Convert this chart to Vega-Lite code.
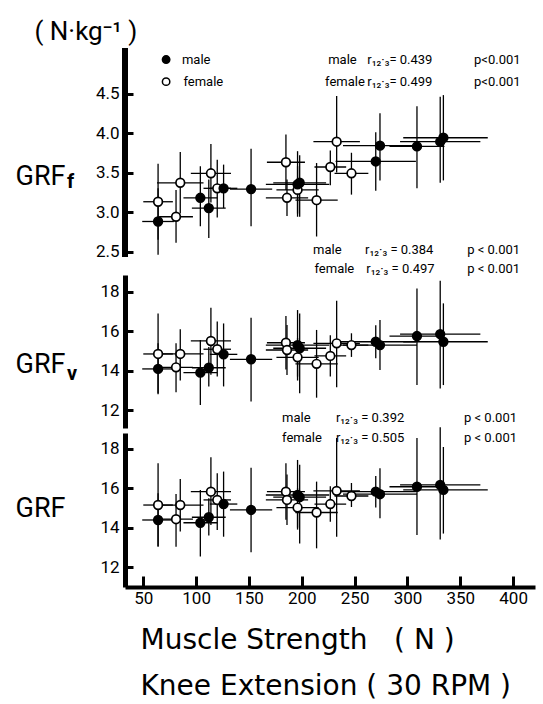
{
"$schema": "https://vega.github.io/schema/vega-lite/v6.json",
"background": "white",
"padding": {"left": 15, "top": 18, "right": 5, "bottom": 2},
"bounds": "flush",
"spacing": 5,
"config": {
  "view": {"stroke": null},
  "font": "Roboto",
  "axis": {"domainColor": "black", "domainWidth": 5, "tickColor": "black", "tickWidth": 3, "labelColor": "black", "labelFontSize": 17, "labelFont": "Roboto", "grid": false, "titleColor": "black"},
  "text": {"font": "Roboto", "color": "black"}
},
"datasets": {
  "pts": [
    {"panel":"f","sex":"female","x":64,"xlo":50,"xhi":78,"y":3.13,"ylo":2.65,"yhi":3.61},
    {"panel":"f","sex":"female","x":81,"xlo":65,"xhi":97,"y":2.94,"ylo":2.61,"yhi":3.28},
    {"panel":"f","sex":"female","x":85,"xlo":63,"xhi":107,"y":3.37,"ylo":2.98,"yhi":3.76},
    {"panel":"f","sex":"female","x":114,"xlo":95,"xhi":133,"y":3.49,"ylo":3.12,"yhi":3.86},
    {"panel":"f","sex":"female","x":120,"xlo":107,"xhi":133,"y":3.30,"ylo":2.93,"yhi":3.66},
    {"panel":"f","sex":"female","x":185,"xlo":167,"xhi":203,"y":3.63,"ylo":3.28,"yhi":3.98},
    {"panel":"f","sex":"female","x":186,"xlo":166,"xhi":206,"y":3.18,"ylo":2.95,"yhi":3.41},
    {"panel":"f","sex":"female","x":196,"xlo":176,"xhi":216,"y":3.28,"ylo":2.98,"yhi":3.58},
    {"panel":"f","sex":"female","x":214,"xlo":194,"xhi":234,"y":3.15,"ylo":2.69,"yhi":3.62},
    {"panel":"f","sex":"female","x":227,"xlo":212,"xhi":242,"y":3.57,"ylo":3.34,"yhi":3.78},
    {"panel":"f","sex":"female","x":233,"xlo":211,"xhi":255,"y":3.89,"ylo":3.50,"yhi":4.47},
    {"panel":"f","sex":"female","x":247,"xlo":231,"xhi":263,"y":3.49,"ylo":3.22,"yhi":3.75},
    {"panel":"f","sex":"male","x":64,"xlo":49,"xhi":79,"y":2.88,"ylo":2.46,"yhi":3.30},
    {"panel":"f","sex":"male","x":104,"xlo":88,"xhi":120,"y":3.18,"ylo":2.82,"yhi":3.58},
    {"panel":"f","sex":"male","x":112,"xlo":96,"xhi":128,"y":3.05,"ylo":2.67,"yhi":3.41},
    {"panel":"f","sex":"male","x":126,"xlo":113,"xhi":139,"y":3.30,"ylo":3.05,"yhi":3.60},
    {"panel":"f","sex":"male","x":152,"xlo":132,"xhi":172,"y":3.29,"ylo":2.82,"yhi":3.80},
    {"panel":"f","sex":"male","x":196,"xlo":166,"xhi":226,"y":3.35,"ylo":2.94,"yhi":3.77},
    {"panel":"f","sex":"male","x":198,"xlo":173,"xhi":223,"y":3.37,"ylo":2.94,"yhi":3.72},
    {"panel":"f","sex":"male","x":270,"xlo":232,"xhi":308,"y":3.64,"ylo":3.27,"yhi":4.01},
    {"panel":"f","sex":"male","x":274,"xlo":239,"xhi":309,"y":3.84,"ylo":3.40,"yhi":4.25},
    {"panel":"f","sex":"male","x":309,"xlo":283,"xhi":335,"y":3.83,"ylo":3.30,"yhi":4.34},
    {"panel":"f","sex":"male","x":331,"xlo":293,"xhi":369,"y":3.89,"ylo":3.37,"yhi":4.46},
    {"panel":"f","sex":"male","x":334,"xlo":296,"xhi":376,"y":3.94,"ylo":3.40,"yhi":4.48},

    {"panel":"v","sex":"female","x":64,"xlo":50,"xhi":78,"y":14.85,"ylo":12.85,"yhi":16.90},
    {"panel":"v","sex":"female","x":81,"xlo":65,"xhi":97,"y":14.17,"ylo":12.90,"yhi":15.40},
    {"panel":"v","sex":"female","x":85,"xlo":63,"xhi":107,"y":14.85,"ylo":13.50,"yhi":16.10},
    {"panel":"v","sex":"female","x":114,"xlo":95,"xhi":133,"y":15.51,"ylo":13.80,"yhi":17.20},
    {"panel":"v","sex":"female","x":120,"xlo":107,"xhi":133,"y":15.09,"ylo":13.70,"yhi":16.50},
    {"panel":"v","sex":"female","x":185,"xlo":167,"xhi":203,"y":15.42,"ylo":14.06,"yhi":16.78},
    {"panel":"v","sex":"female","x":186,"xlo":166,"xhi":206,"y":15.05,"ylo":13.78,"yhi":16.32},
    {"panel":"v","sex":"female","x":196,"xlo":176,"xhi":216,"y":14.68,"ylo":13.70,"yhi":15.66},
    {"panel":"v","sex":"female","x":214,"xlo":194,"xhi":234,"y":14.35,"ylo":12.63,"yhi":16.07},
    {"panel":"v","sex":"female","x":227,"xlo":212,"xhi":242,"y":14.75,"ylo":13.70,"yhi":15.80},
    {"panel":"v","sex":"female","x":233,"xlo":211,"xhi":255,"y":15.39,"ylo":13.16,"yhi":17.55},
    {"panel":"v","sex":"female","x":247,"xlo":231,"xhi":263,"y":15.30,"ylo":14.70,"yhi":15.90},
    {"panel":"v","sex":"male","x":64,"xlo":49,"xhi":79,"y":14.09,"ylo":12.80,"yhi":15.40},
    {"panel":"v","sex":"male","x":104,"xlo":88,"xhi":120,"y":13.90,"ylo":12.26,"yhi":15.56},
    {"panel":"v","sex":"male","x":112,"xlo":96,"xhi":128,"y":14.15,"ylo":13.20,"yhi":15.20},
    {"panel":"v","sex":"male","x":126,"xlo":113,"xhi":139,"y":14.83,"ylo":13.20,"yhi":16.40},
    {"panel":"v","sex":"male","x":152,"xlo":132,"xhi":172,"y":14.58,"ylo":12.43,"yhi":16.69},
    {"panel":"v","sex":"male","x":196,"xlo":166,"xhi":226,"y":15.30,"ylo":13.50,"yhi":17.08},
    {"panel":"v","sex":"male","x":198,"xlo":173,"xhi":223,"y":15.14,"ylo":12.85,"yhi":16.90},
    {"panel":"v","sex":"male","x":270,"xlo":232,"xhi":308,"y":15.47,"ylo":14.63,"yhi":16.31},
    {"panel":"v","sex":"male","x":274,"xlo":239,"xhi":309,"y":15.30,"ylo":14.04,"yhi":16.57},
    {"panel":"v","sex":"male","x":309,"xlo":283,"xhi":335,"y":15.76,"ylo":13.27,"yhi":18.18},
    {"panel":"v","sex":"male","x":331,"xlo":293,"xhi":369,"y":15.86,"ylo":13.10,"yhi":18.57},
    {"panel":"v","sex":"male","x":334,"xlo":296,"xhi":376,"y":15.47,"ylo":13.27,"yhi":17.42},

    {"panel":"t","sex":"female","x":64,"xlo":50,"xhi":78,"y":15.15,"ylo":13.05,"yhi":17.27},
    {"panel":"t","sex":"female","x":81,"xlo":65,"xhi":97,"y":14.43,"ylo":13.03,"yhi":15.71},
    {"panel":"t","sex":"female","x":85,"xlo":63,"xhi":107,"y":15.15,"ylo":13.80,"yhi":16.47},
    {"panel":"t","sex":"female","x":114,"xlo":95,"xhi":133,"y":15.83,"ylo":14.14,"yhi":17.58},
    {"panel":"t","sex":"female","x":120,"xlo":107,"xhi":133,"y":15.41,"ylo":13.88,"yhi":16.77},
    {"panel":"t","sex":"female","x":185,"xlo":167,"xhi":203,"y":15.83,"ylo":14.40,"yhi":17.27},
    {"panel":"t","sex":"female","x":186,"xlo":166,"xhi":206,"y":15.41,"ylo":14.14,"yhi":16.70},
    {"panel":"t","sex":"female","x":196,"xlo":176,"xhi":216,"y":15.02,"ylo":14.00,"yhi":16.00},
    {"panel":"t","sex":"female","x":214,"xlo":194,"xhi":234,"y":14.77,"ylo":12.95,"yhi":16.34},
    {"panel":"t","sex":"female","x":227,"xlo":212,"xhi":242,"y":15.20,"ylo":14.30,"yhi":16.10},
    {"panel":"t","sex":"female","x":233,"xlo":211,"xhi":255,"y":15.87,"ylo":13.54,"yhi":18.55},
    {"panel":"t","sex":"female","x":247,"xlo":231,"xhi":263,"y":15.61,"ylo":15.05,"yhi":16.27},
    {"panel":"t","sex":"male","x":64,"xlo":49,"xhi":79,"y":14.39,"ylo":13.03,"yhi":15.75},
    {"panel":"t","sex":"male","x":104,"xlo":88,"xhi":120,"y":14.25,"ylo":12.53,"yhi":15.92},
    {"panel":"t","sex":"male","x":112,"xlo":96,"xhi":128,"y":14.53,"ylo":13.60,"yhi":15.50},
    {"panel":"t","sex":"male","x":126,"xlo":113,"xhi":139,"y":15.20,"ylo":13.54,"yhi":16.85},
    {"panel":"t","sex":"male","x":152,"xlo":132,"xhi":172,"y":14.90,"ylo":12.75,"yhi":17.05},
    {"panel":"t","sex":"male","x":196,"xlo":166,"xhi":226,"y":15.66,"ylo":13.90,"yhi":17.44},
    {"panel":"t","sex":"male","x":198,"xlo":173,"xhi":223,"y":15.55,"ylo":13.20,"yhi":17.20},
    {"panel":"t","sex":"male","x":270,"xlo":232,"xhi":308,"y":15.83,"ylo":15.03,"yhi":16.63},
    {"panel":"t","sex":"male","x":274,"xlo":239,"xhi":309,"y":15.70,"ylo":14.48,"yhi":17.02},
    {"panel":"t","sex":"male","x":309,"xlo":283,"xhi":335,"y":16.08,"ylo":13.63,"yhi":18.55},
    {"panel":"t","sex":"male","x":331,"xlo":293,"xhi":369,"y":16.17,"ylo":13.40,"yhi":19.10},
    {"panel":"t","sex":"male","x":334,"xlo":296,"xhi":376,"y":15.92,"ylo":13.70,"yhi":18.10}
  ],
  "legend": [
    {"sex":"male","x":71.6,"y":4.93},
    {"sex":"female","x":71.6,"y":4.65}
  ],
  "notes": [
    {"panel":"f","kind":"ann","x":86.6,"y":4.93,"text":"male"},
    {"panel":"f","kind":"ann","x":88,"y":4.65,"text":"female"},
    {"panel":"f","kind":"ann","x":225,"y":4.93,"text":"male"},
    {"panel":"f","kind":"ann","x":262,"y":4.93,"text":"r₁₂·₃= 0.439"},
    {"panel":"f","kind":"ann","x":363,"y":4.93,"text":"p<0.001"},
    {"panel":"f","kind":"ann","x":222,"y":4.65,"text":"female"},
    {"panel":"f","kind":"ann","x":262,"y":4.65,"text":"r₁₂·₃= 0.499"},
    {"panel":"f","kind":"ann","x":363,"y":4.65,"text":"p<0.001"},
    {"panel":"f","kind":"big","x":-70.9,"y":3.346,"text":"GRF"},
    {"panel":"f","kind":"sub","x":-22.3,"y":3.31,"text":"f"},
    {"panel":"f","kind":"unit","x":-53,"y":5.18,"text":"( N·kg⁻¹ )"},
    {"panel":"v","kind":"ann","x":210.7,"y":20.13,"text":"male"},
    {"panel":"v","kind":"ann","x":259.9,"y":20.13,"text":"r₁₂·₃ = 0.384"},
    {"panel":"v","kind":"ann","x":356.5,"y":20.13,"text":"p < 0.001"},
    {"panel":"v","kind":"ann","x":212,"y":19.15,"text":"female"},
    {"panel":"v","kind":"ann","x":261,"y":19.15,"text":"r₁₂·₃ = 0.497"},
    {"panel":"v","kind":"ann","x":356.5,"y":19.15,"text":"p < 0.001"},
    {"panel":"v","kind":"big","x":-70.9,"y":13.88,"text":"GRF"},
    {"panel":"v","kind":"sub","x":-22.3,"y":13.53,"text":"v"},
    {"panel":"t","kind":"ann","x":181.3,"y":19.56,"text":"male"},
    {"panel":"t","kind":"ann","x":232.3,"y":19.56,"text":"r₁₂·₃ = 0.392"},
    {"panel":"t","kind":"ann","x":353.5,"y":19.56,"text":"p < 0.001"},
    {"panel":"t","kind":"ann","x":181.3,"y":18.55,"text":"female"},
    {"panel":"t","kind":"ann","x":232.3,"y":18.55,"text":"r₁₂·₃ = 0.505"},
    {"panel":"t","kind":"ann","x":353.5,"y":18.55,"text":"p < 0.001"},
    {"panel":"t","kind":"big","x":-70.9,"y":14.54,"text":"GRF"}
  ]
},
"vconcat": [
  {
    "width": 410, "height": 222,
    "layer": [
      {"data": {"name": "pts"}, "transform": [{"filter": "datum.panel == 'f'"}],
       "mark": {"type": "rule", "color": "black", "strokeWidth": 1.3},
       "encoding": {
         "x": {"field": "xlo", "type": "quantitative", "scale": {"domain": [32.7, 420.7], "nice": false, "zero": false}, "axis": null},
         "x2": {"field": "xhi"},
         "y": {"field": "y", "type": "quantitative", "scale": {"domain": [2.266, 5.076], "nice": false, "zero": false},
               "axis": {"title": null, "domain": false, "values": [2.5, 3.0, 3.5, 4.0, 4.5], "format": ".1f", "tickSize": -8, "labelPadding": 14}}
       }},
      {"data": {"name": "pts"}, "mark": {"type": "rule", "color": "black", "strokeWidth": 5},
       "encoding": {"x": {"datum": 32.7, "type": "quantitative"}, "y": {"datum": 2.44, "type": "quantitative"}, "y2": {"datum": 5.076}}},
      {"data": {"name": "pts"}, "transform": [{"filter": "datum.panel == 'f'"}],
       "mark": {"type": "rule", "color": "black", "strokeWidth": 1.3},
       "encoding": {"x": {"field": "x", "type": "quantitative"}, "y": {"field": "ylo", "type": "quantitative"}, "y2": {"field": "yhi"}}},
      {"data": {"name": "pts"}, "transform": [{"filter": "datum.panel == 'f'"}],
       "mark": {"type": "point", "shape": "circle", "filled": true, "size": 75, "stroke": "black", "strokeWidth": 1.7, "opacity": 1},
       "encoding": {"x": {"field": "x", "type": "quantitative"}, "y": {"field": "y", "type": "quantitative"},
                    "fill": {"field": "sex", "type": "nominal", "scale": {"domain": ["male", "female"], "range": ["black", "white"]}, "legend": null}}},
      {"data": {"name": "legend"},
       "mark": {"type": "point", "shape": "circle", "filled": true, "size": 55, "stroke": "black", "strokeWidth": 1.5, "opacity": 1},
       "encoding": {"x": {"field": "x", "type": "quantitative"}, "y": {"field": "y", "type": "quantitative"},
                    "fill": {"field": "sex", "type": "nominal", "scale": {"domain": ["male", "female"], "range": ["black", "white"]}, "legend": null}}},
      {"data": {"name": "notes"}, "transform": [{"filter": "datum.panel == 'f' && datum.kind == 'ann'"}],
       "mark": {"type": "text", "fontSize": 13, "align": "left", "baseline": "middle"},
       "encoding": {"x": {"field": "x", "type": "quantitative"}, "y": {"field": "y", "type": "quantitative"}, "text": {"field": "text"}}},
      {"data": {"name": "notes"}, "transform": [{"filter": "datum.panel == 'f' && datum.kind == 'big'"}],
       "mark": {"type": "text", "fontSize": 27, "align": "left", "baseline": "alphabetic"},
       "encoding": {"x": {"field": "x", "type": "quantitative"}, "y": {"field": "y", "type": "quantitative"}, "text": {"field": "text"}}},
      {"data": {"name": "notes"}, "transform": [{"filter": "datum.panel == 'f' && datum.kind == 'sub'"}],
       "mark": {"type": "text", "fontSize": 20, "fontWeight": "bold", "align": "left", "baseline": "alphabetic"},
       "encoding": {"x": {"field": "x", "type": "quantitative"}, "y": {"field": "y", "type": "quantitative"}, "text": {"field": "text"}}},
      {"data": {"name": "notes"}, "transform": [{"filter": "datum.panel == 'f' && datum.kind == 'unit'"}],
       "mark": {"type": "text", "fontSize": 26, "align": "left", "baseline": "alphabetic"},
       "encoding": {"x": {"field": "x", "type": "quantitative"}, "y": {"field": "y", "type": "quantitative"}, "text": {"field": "text"}}}
    ]
  },
  {
    "width": 410, "height": 153,
    "layer": [
      {"data": {"name": "pts"}, "transform": [{"filter": "datum.panel == 'v'"}],
       "mark": {"type": "rule", "color": "black", "strokeWidth": 1.3},
       "encoding": {
         "x": {"field": "xlo", "type": "quantitative", "scale": {"domain": [32.7, 420.7], "nice": false, "zero": false}, "axis": null},
         "x2": {"field": "xhi"},
         "y": {"field": "y", "type": "quantitative", "scale": {"domain": [11.09, 18.86], "nice": false, "zero": false},
               "axis": {"title": null, "values": [12, 14, 16, 18], "format": "d", "tickSize": -8, "labelPadding": 14}}
       }},
      {"data": {"name": "pts"}, "transform": [{"filter": "datum.panel == 'v'"}],
       "mark": {"type": "rule", "color": "black", "strokeWidth": 1.3},
       "encoding": {"x": {"field": "x", "type": "quantitative"}, "y": {"field": "ylo", "type": "quantitative"}, "y2": {"field": "yhi"}}},
      {"data": {"name": "pts"}, "transform": [{"filter": "datum.panel == 'v'"}],
       "mark": {"type": "point", "shape": "circle", "filled": true, "size": 75, "stroke": "black", "strokeWidth": 1.7, "opacity": 1},
       "encoding": {"x": {"field": "x", "type": "quantitative"}, "y": {"field": "y", "type": "quantitative"},
                    "fill": {"field": "sex", "type": "nominal", "scale": {"domain": ["male", "female"], "range": ["black", "white"]}, "legend": null}}},
      {"data": {"name": "notes"}, "transform": [{"filter": "datum.panel == 'v' && datum.kind == 'ann'"}],
       "mark": {"type": "text", "fontSize": 13, "align": "left", "baseline": "middle"},
       "encoding": {"x": {"field": "x", "type": "quantitative"}, "y": {"field": "y", "type": "quantitative"}, "text": {"field": "text"}}},
      {"data": {"name": "notes"}, "transform": [{"filter": "datum.panel == 'v' && datum.kind == 'big'"}],
       "mark": {"type": "text", "fontSize": 27, "align": "left", "baseline": "alphabetic"},
       "encoding": {"x": {"field": "x", "type": "quantitative"}, "y": {"field": "y", "type": "quantitative"}, "text": {"field": "text"}}},
      {"data": {"name": "notes"}, "transform": [{"filter": "datum.panel == 'v' && datum.kind == 'sub'"}],
       "mark": {"type": "text", "fontSize": 20, "fontWeight": "bold", "align": "left", "baseline": "alphabetic"},
       "encoding": {"x": {"field": "x", "type": "quantitative"}, "y": {"field": "y", "type": "quantitative"}, "text": {"field": "text"}}}
    ]
  },
  {
    "width": 410, "height": 154,
    "layer": [
      {"data": {"name": "pts"}, "transform": [{"filter": "datum.panel == 't'"}],
       "mark": {"type": "rule", "color": "black", "strokeWidth": 1.3},
       "encoding": {
         "x": {"field": "xlo", "type": "quantitative", "scale": {"domain": [32.7, 420.7], "nice": false, "zero": false},
               "axis": {"values": [50, 100, 150, 200, 250, 300, 350, 400], "format": "d", "domainWidth": 4, "tickSize": -11, "labelPadding": 14,
                        "title": ["Muscle Strength\u00a0\u00a0 (\u00a0N\u00a0)", "Knee Extension ( 30 RPM )"], "titleFont": "DejaVu Sans", "titleFontSize": 28, "titleFontWeight": "normal",
                        "titleLineHeight": 46, "titleAlign": "left", "titleAnchor": "start", "titleBaseline": "alphabetic", "titleX": 15, "titleY": 61}},
         "x2": {"field": "xhi"},
         "y": {"field": "y", "type": "quantitative", "scale": {"domain": [10.985, 18.81], "nice": false, "zero": false},
               "axis": {"title": null, "values": [12, 14, 16, 18], "format": "d", "tickSize": -8, "labelPadding": 14}}
       }},
      {"data": {"name": "pts"}, "transform": [{"filter": "datum.panel == 't'"}],
       "mark": {"type": "rule", "color": "black", "strokeWidth": 1.3},
       "encoding": {"x": {"field": "x", "type": "quantitative"}, "y": {"field": "ylo", "type": "quantitative"}, "y2": {"field": "yhi"}}},
      {"data": {"name": "pts"}, "transform": [{"filter": "datum.panel == 't'"}],
       "mark": {"type": "point", "shape": "circle", "filled": true, "size": 75, "stroke": "black", "strokeWidth": 1.7, "opacity": 1},
       "encoding": {"x": {"field": "x", "type": "quantitative"}, "y": {"field": "y", "type": "quantitative"},
                    "fill": {"field": "sex", "type": "nominal", "scale": {"domain": ["male", "female"], "range": ["black", "white"]}, "legend": null}}},
      {"data": {"name": "notes"}, "transform": [{"filter": "datum.panel == 't' && datum.kind == 'ann'"}],
       "mark": {"type": "text", "fontSize": 13, "align": "left", "baseline": "middle"},
       "encoding": {"x": {"field": "x", "type": "quantitative"}, "y": {"field": "y", "type": "quantitative"}, "text": {"field": "text"}}},
      {"data": {"name": "notes"}, "transform": [{"filter": "datum.panel == 't' && datum.kind == 'big'"}],
       "mark": {"type": "text", "fontSize": 27, "align": "left", "baseline": "alphabetic"},
       "encoding": {"x": {"field": "x", "type": "quantitative"}, "y": {"field": "y", "type": "quantitative"}, "text": {"field": "text"}}}
    ]
  }
]
}
